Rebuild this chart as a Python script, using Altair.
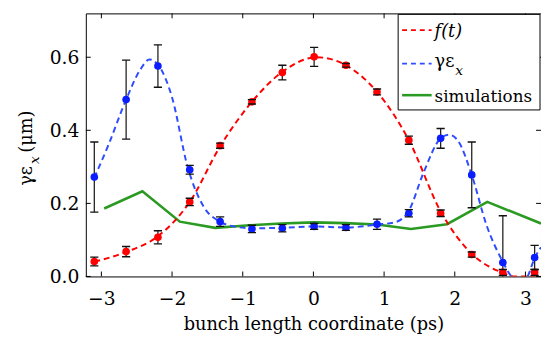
import altair as alt
import pandas as pd

# ---- data ----
t_pts = [-3.1, -2.65, -2.2, -1.75, -1.32, -0.87, -0.44, 0.01, 0.46, 0.9, 1.35, 1.8, 2.24, 2.68, 3.13]
f_vals = [0.041, 0.068, 0.107, 0.204, 0.358, 0.478, 0.558, 0.601, 0.578, 0.505, 0.373, 0.173, 0.060, 0.011, 0.011]
f_err = [0.012, 0.014, 0.018, 0.010, 0.007, 0.006, 0.020, 0.026, 0.005, 0.008, 0.011, 0.009, 0.007, 0.008, 0.008]
g_vals = [0.272, 0.484, 0.576, 0.292, 0.150, 0.130, 0.132, 0.137, 0.134, 0.143, 0.173, 0.378, 0.278, 0.038, 0.052]
g_err = [0.096, 0.108, 0.058, 0.012, 0.013, 0.010, 0.010, 0.008, 0.008, 0.014, 0.010, 0.027, 0.090, 0.128, 0.033]

fc_t = [-3.1, -2.65, -2.2, -1.75, -1.32, -0.87, -0.44, 0.05, 0.46, 0.9, 1.35, 1.8, 2.24, 2.68, 2.85, 3.13]
fc_vals = [0.040, 0.067, 0.110, 0.204, 0.356, 0.478, 0.560, 0.600, 0.578, 0.505, 0.373, 0.178, 0.062, 0.010, 0.0, 0.0]

gc_t = [-3.1, -2.9, -2.65, -2.45, -2.32, -2.2, -2.0, -1.78, -1.55, -1.32, -1.1, -0.87, -0.44, 0.01, 0.46, 0.9,
        1.15, 1.35, 1.55, 1.8, 1.92, 2.05, 2.24, 2.45, 2.68, 2.8, 2.92, 3.03, 3.13, 3.22]
gc_vals = [0.27, 0.36, 0.484, 0.566, 0.594, 0.58, 0.49, 0.30, 0.19, 0.15, 0.136, 0.132, 0.133, 0.137, 0.134, 0.142,
           0.148, 0.18, 0.28, 0.378, 0.388, 0.37, 0.278, 0.14, 0.04, 0.0, -0.02, 0.0, 0.05, 0.08]

sim_t = [-2.96, -2.42, -1.89, -1.39, -0.9, -0.45, 0.0, 0.45, 0.9, 1.38, 1.89, 2.46, 3.22]
sim_vals = [0.186, 0.233, 0.150, 0.133, 0.140, 0.145, 0.148, 0.146, 0.142, 0.130, 0.143, 0.204, 0.145]

x_ticks = [-3, -2, -1, 0, 1, 2, 3]
y_ticks = [0, 0.2, 0.4, 0.6]

# ---- layout ----
W, H = 462, 267
FONT = "DejaVu Serif"
RED = "#ff0000"
BLUE = "#0a1eff"
BLUE_L = "#2f4cff"
GREEN = "#2a9a22"

xs = alt.Scale(domain=[-3.22, 3.22], nice=False, zero=False)
ys = alt.Scale(domain=[0, 0.72], nice=False, zero=False)

x_axis = alt.Axis(values=x_ticks, ticks=False, domain=False, grid=False, labelFont=FONT, labelFontSize=19,
                  labelColor="black", labelPadding=13, title="bunch length coordinate (ps)",
                  titleFont=FONT, titleFontSize=18, titleFontWeight="normal", titleColor="black",
                  titlePadding=8)
y_axis = alt.Axis(values=y_ticks, ticks=False, domain=False, grid=False, labelFont=FONT, labelFontSize=19,
                  labelColor="black", labelPadding=7, title="")


def X(field="t"):
    return alt.X(f"{field}:Q", scale=xs, axis=x_axis)


def Y(field="v"):
    return alt.Y(f"{field}:Q", scale=ys, axis=y_axis)


df_f = pd.DataFrame({"t": t_pts, "v": f_vals, "e": f_err})
df_g = pd.DataFrame({"t": t_pts, "v": g_vals, "e": g_err})
df_fc = pd.DataFrame({"t": fc_t, "v": fc_vals})
df_gc = pd.DataFrame({"t": gc_t, "v": gc_vals})
df_sim = pd.DataFrame({"t": sim_t, "v": sim_vals})
df_xt = pd.DataFrame({"t": x_ticks})
df_yt = pd.DataFrame({"v": y_ticks})
one = pd.DataFrame({"a": [0]})

sim_line = alt.Chart(df_sim).mark_line(color=GREEN, strokeWidth=2.6, clip=True).encode(x=X(), y=Y())
f_curve = alt.Chart(df_fc).mark_line(color=RED, strokeWidth=2, strokeDash=[6, 4], interpolate="monotone",
                                     clip=True).encode(x=X(), y=Y())
g_curve = alt.Chart(df_gc).mark_line(color=BLUE_L, strokeWidth=2, strokeDash=[6, 4], interpolate="monotone",
                                     clip=True).encode(x=X(), y=Y())


def errbars(df):
    base = alt.Chart(df).transform_calculate(
        lo="datum.v - datum.e", hi="datum.v + datum.e",
        tl="datum.t - 0.058", tr="datum.t + 0.058")
    vert = base.mark_rule(color="#222222", strokeWidth=1.3, clip=True).encode(
        x=X(), y=alt.Y("lo:Q", scale=ys, axis=y_axis), y2="hi:Q")
    cap_hi = base.mark_rule(color="#111111", strokeWidth=1.4, clip=True).encode(
        x=alt.X("tl:Q", scale=xs, axis=x_axis), x2="tr:Q", y=alt.Y("hi:Q", scale=ys, axis=y_axis))
    cap_lo = base.mark_rule(color="#111111", strokeWidth=1.4, clip=True).encode(
        x=alt.X("tl:Q", scale=xs, axis=x_axis), x2="tr:Q", y=alt.Y("lo:Q", scale=ys, axis=y_axis))
    return vert, cap_hi, cap_lo


fv, fh, fl = errbars(df_f)
gv, gh, gl = errbars(df_g)

f_pts = alt.Chart(df_f).mark_circle(color=RED, size=60, opacity=1, clip=True).encode(x=X(), y=Y())
g_pts = alt.Chart(df_g).mark_circle(color=BLUE, size=60, opacity=1, clip=True).encode(x=X(), y=Y())

# inward ticks on all four sides
tk = 5
xt_bot = alt.Chart(df_xt).mark_rule(color="black", strokeWidth=1).encode(
    x=X(), y=alt.value(H), y2=alt.value(H - tk))
xt_top = alt.Chart(df_xt).mark_rule(color="black", strokeWidth=1).encode(
    x=X(), y=alt.value(0), y2=alt.value(tk))
yt_left = alt.Chart(df_yt).mark_rule(color="black", strokeWidth=1).encode(
    y=Y(), x=alt.value(0), x2=alt.value(tk))
yt_right = alt.Chart(df_yt).mark_rule(color="black", strokeWidth=1).encode(
    y=Y(), x=alt.value(W), x2=alt.value(W - tk))

# y axis title as text pieces (γε, italic subscript x, (μm))
yt1 = alt.Chart(one).mark_text(text="γε", font=FONT, fontSize=18, angle=270, align="center",
                               baseline="alphabetic", color="black").encode(x=alt.value(-55), y=alt.value(165))
yt2 = alt.Chart(one).mark_text(text="x", font=FONT, fontSize=14, fontStyle="italic", angle=270, align="center",
                               baseline="alphabetic", color="black").encode(x=alt.value(-48), y=alt.value(149))
yt3 = alt.Chart(one).mark_text(text="(μm)", font=FONT, fontSize=18, angle=270, align="center",
                               baseline="alphabetic", color="black").encode(x=alt.value(-55), y=alt.value(120))

# legend box
lg_box = alt.Chart(one).mark_rect(fill="white", stroke="black", strokeWidth=1).encode(
    x=alt.value(317), x2=alt.value(461), y=alt.value(1), y2=alt.value(98))
lg_l1 = alt.Chart(one).mark_rule(color=RED, strokeWidth=1.6, strokeDash=[5, 4]).encode(
    x=alt.value(321), x2=alt.value(351), y=alt.value(17))
lg_l2 = alt.Chart(one).mark_rule(color=BLUE_L, strokeWidth=1.6, strokeDash=[5, 4]).encode(
    x=alt.value(321), x2=alt.value(351), y=alt.value(51))
lg_l3 = alt.Chart(one).mark_rule(color=GREEN, strokeWidth=2.6).encode(
    x=alt.value(321), x2=alt.value(351), y=alt.value(83))
lg_t1 = alt.Chart(one).mark_text(text="f(t)", font=FONT, fontSize=18, fontStyle="italic", align="left",
                                 baseline="alphabetic", color="black").encode(x=alt.value(354), y=alt.value(24))
lg_t2 = alt.Chart(one).mark_text(text="γε", font=FONT, fontSize=18, align="left",
                                 baseline="alphabetic", color="black").encode(x=alt.value(354), y=alt.value(54))
lg_t2b = alt.Chart(one).mark_text(text="x", font=FONT, fontSize=14, fontStyle="italic", align="left",
                                  baseline="alphabetic", color="black").encode(x=alt.value(375), y=alt.value(63))
lg_t3 = alt.Chart(one).mark_text(text="simulations", font=FONT, fontSize=17, align="left",
                                 baseline="alphabetic", color="black").encode(x=alt.value(354), y=alt.value(90))

chart = alt.layer(
    sim_line, f_curve, g_curve, fv, gv, f_pts, g_pts, fh, fl, gh, gl,
    xt_bot, xt_top, yt_left, yt_right,
    yt1, yt2, yt3,
    lg_box, lg_l1, lg_l2, lg_l3, lg_t1, lg_t2, lg_t2b, lg_t3,
).properties(
    width=W, height=H,
    autosize=alt.AutoSizeParams(type="none"),
    padding={"left": 79, "top": 3, "right": 0, "bottom": 60},
    background="white",
).configure_view(stroke="black", strokeWidth=1)

chart.save("out.html", embed_options={"renderer": "svg", "actions": False})
